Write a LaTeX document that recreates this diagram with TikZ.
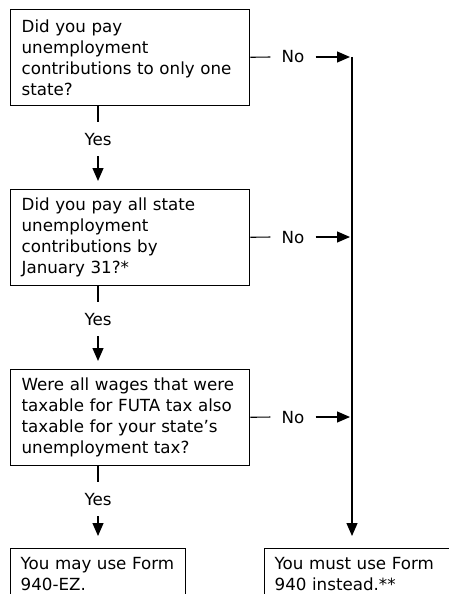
\documentclass[tikz,border=0pt]{standalone}
\usepackage{fontspec}
\setmainfont{DejaVu Sans}
\usetikzlibrary{arrows.meta}

\begin{document}
\begin{tikzpicture}
[every node/.style={font=\fontsize{16.7pt}{21pt}\selectfont},
 qbox/.style={draw=black, line width=1.3pt, anchor=north west, align=left, text width=217pt, inner xsep=11pt, inner ysep=0pt, minimum height=96pt},
 endbox/.style={draw=black, line width=1.3pt, anchor=north west, align=left, inner xsep=10pt, inner ysep=9pt},
 answer/.style={inner xsep=11pt, inner ysep=11pt, text height=12pt, text depth=0pt},
 flow/.style={line width=1.2pt, color=black},
 arr/.style={flow, -{Triangle[length=13pt, width=11pt]}}]
\useasboundingbox (0pt, 0pt) rectangle (448pt, -594pt);
\node (q1) [qbox] at (10pt, -9pt) {Did you pay\\unemployment\\contributions to only one\\state?};
\node (q2) [qbox] at (10pt, -189pt) {Did you pay all state\\unemployment\\contributions by\\January 31?*};
\node (q3) [qbox] at (10pt, -369pt) {Were all wages that were\\taxable for FUTA tax also\\taxable for your state’s\\unemployment tax?};
\node (f1) [endbox, text width=155pt] at (10pt, -548pt) {You may use Form\\940-EZ.};
\node (f2) [endbox, text width=190pt] at (264pt, -548pt) {You must use Form\\940 instead.**};
\node (yes1) [answer] at (98pt, -139pt) {Yes};
\node (yes2) [answer] at (98pt, -319pt) {Yes};
\node (yes3) [answer] at (98pt, -499pt) {Yes};
\node (no1) [answer] at (293pt, -57pt) {No};
\node (no2) [answer] at (293pt, -237pt) {No};
\node (no3) [answer] at (293pt, -417pt) {No};
\coordinate (side) at (352pt, -57pt);
\draw [flow] (yes1.north |- q1.south) -- (yes1);
\draw [arr, shorten >=8pt] (yes1) -- (yes1 |- q2.north);
\draw [flow] (yes2.north |- q2.south) -- (yes2);
\draw [arr, shorten >=8pt] (yes2) -- (yes2 |- q3.north);
\draw [flow] (yes3.north |- q3.south) -- (yes3);
\draw [arr, shorten >=12pt] (yes3) -- (yes3 |- f1.north);
\draw [flow] (q1) -- (no1);
\draw [arr, shorten >=2pt] (no1) -- (no1 -| side);
\draw [flow] (q2) -- (no2);
\draw [arr, shorten >=2pt] (no2) -- (no2 -| side);
\draw [flow] (q3) -- (no3);
\draw [arr, shorten >=2pt] (no3) -- (no3 -| side);
\draw [arr, shorten >=12pt] (side) -- (side |- f2.north);
\end{tikzpicture}
\end{document}
